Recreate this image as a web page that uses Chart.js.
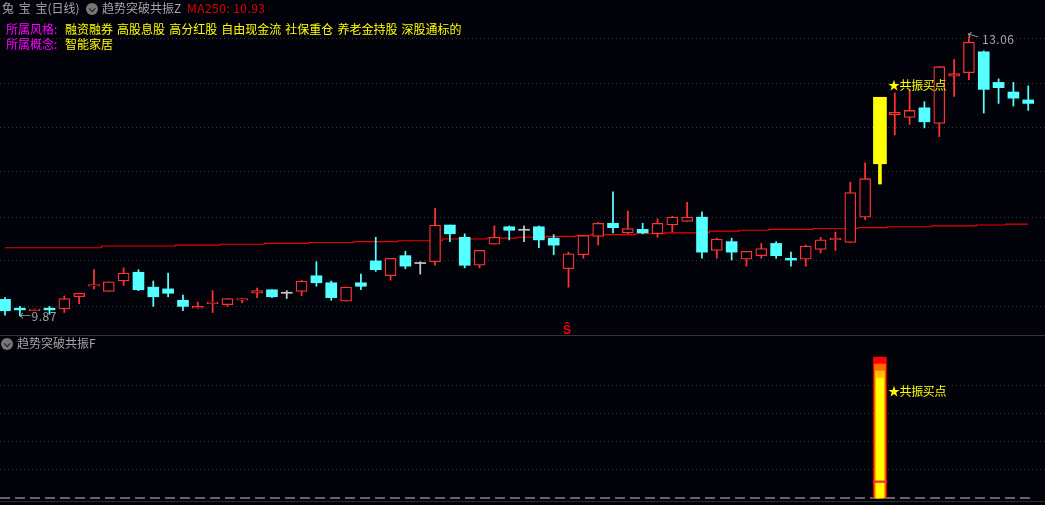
<!DOCTYPE html>
<html><head><meta charset="utf-8">
<script src="https://cdn.jsdelivr.net/npm/chart.js@4/dist/chart.umd.min.js"></script>
<style>
html,body{margin:0;padding:0;background:#02020b;width:1045px;height:505px;overflow:hidden;}
#root{position:relative;width:1045px;height:505px;font:12px "Noto Sans CJK SC",sans-serif;}
.pane{position:absolute;left:0;width:1045px;}
.pane canvas{display:block;}
.t{position:absolute;white-space:pre;line-height:14px;}
.rule{position:absolute;left:0;width:1045px;height:1px;background:#333338;}
.ico{position:absolute;width:12px;height:12px;border-radius:50%;background:#777;}
.ico:after{content:"";position:absolute;left:3.5px;top:2.5px;width:3.5px;height:3.5px;border:solid #15151a;border-width:0 1.5px 1.5px 0;transform:rotate(45deg);}
</style></head><body>
<div id="root">
<div class="pane" style="top:0;height:335px"><canvas id="main" width="1045" height="335"></canvas></div>
<div class="pane" style="top:336px;height:169px"><canvas id="sub" width="1045" height="169"></canvas></div>
<div class="rule" style="top:335px"></div>
<div class="rule" style="top:501px;background:#2e2e32"></div>

<div class="t" style="left:2px;top:1px;color:#a6a6a6;word-spacing:2px">兔 宝 宝(日线)</div>
<div class="ico" style="left:86px;top:3px"></div>
<div class="t" style="left:102px;top:1px;color:#a6a6a6">趋势突破共振Z</div>
<div class="t" style="left:187px;top:1px;color:#e80000;letter-spacing:.45px">MA250: 10.93</div>
<div class="t" style="left:6px;top:22px;color:#f0f">所属风格:</div>
<div class="t" style="left:65px;top:22px;color:#ff0;word-spacing:1.4px">融资融券 高股息股 高分红股 自由现金流 社保重仓 养老金持股 深股通标的</div>
<div class="t" style="left:6px;top:37px;color:#f0f">所属概念:</div>
<div class="t" style="left:65px;top:37px;color:#ff0">智能家居</div>

<div class="t" style="left:19px;top:309px;color:#a6a6a6;letter-spacing:.5px">←9.87</div>
<div class="t" style="left:967px;top:28px;color:#a6a6a6;transform:rotate(15deg)">←</div>
<div class="t" style="left:982px;top:32px;color:#a6a6a6;letter-spacing:.5px">13.06</div>
<div class="t" style="left:888px;top:78px;color:#ff0;letter-spacing:-.4px">★共振买点</div>
<div class="t" style="left:563px;top:322px;color:#f00;font-weight:bold">Ŝ</div>

<div class="ico" style="left:1px;top:338px"></div>
<div class="t" style="left:17px;top:336px;color:#a6a6a6">趋势突破共振F</div>
<div class="t" style="left:888px;top:384px;color:#ff0;letter-spacing:-.4px">★共振买点</div>
</div>
<script>
const opens=[10.06,9.96,9.93,9.96,9.95,10.09,10.21,10.15,10.27,10.37,10.20,10.18,10.05,9.96,10.01,10.00,10.05,10.13,10.17,10.13,10.15,10.33,10.25,10.04,10.25,10.50,10.33,10.56,10.47,10.49,10.91,10.77,10.45,10.69,10.89,10.85,10.89,10.76,10.41,10.57,10.78,10.93,10.82,10.86,10.81,10.91,10.95,11.00,10.62,10.72,10.52,10.56,10.70,10.53,10.52,10.63,10.74,10.71,11.00,11.61,12.17,12.14,12.25,12.07,12.61,12.65,12.89,12.54,12.43,12.34];
const closes=[9.93,9.94,9.95,9.94,10.07,10.13,10.23,10.26,10.36,10.17,10.09,10.13,9.98,9.98,10.03,10.07,10.07,10.16,10.09,10.13,10.27,10.25,10.08,10.20,10.21,10.40,10.53,10.44,10.47,10.91,10.81,10.45,10.62,10.77,10.85,10.85,10.74,10.68,10.58,10.79,10.93,10.88,10.87,10.82,10.93,11.00,11.00,10.60,10.75,10.60,10.61,10.64,10.56,10.51,10.67,10.74,10.76,11.28,11.44,12.37,12.20,12.22,12.09,12.72,12.64,13.00,12.46,12.48,12.36,12.30];
const highs=[10.08,9.98,9.95,9.98,10.10,10.13,10.40,10.26,10.42,10.40,10.27,10.36,10.11,10.03,10.16,10.07,10.07,10.19,10.17,10.16,10.28,10.49,10.27,10.20,10.35,10.77,10.53,10.61,10.49,11.10,10.91,10.81,10.62,10.90,10.90,10.90,10.90,10.80,10.60,10.79,10.94,11.29,11.07,10.93,10.98,11.01,11.17,11.06,10.76,10.76,10.61,10.70,10.72,10.60,10.68,10.77,10.83,11.40,11.62,12.37,12.42,12.45,12.32,12.72,12.80,13.06,12.90,12.58,12.54,12.50];
const lows=[9.88,9.87,9.93,9.89,9.91,10.01,10.18,10.15,10.22,10.16,9.98,10.09,9.93,9.96,9.91,9.98,10.02,10.08,10.08,10.07,10.10,10.21,10.05,10.04,10.17,10.38,10.28,10.41,10.35,10.45,10.72,10.42,10.42,10.69,10.74,10.72,10.65,10.57,10.20,10.53,10.68,10.82,10.81,10.81,10.77,10.83,10.95,10.53,10.53,10.51,10.44,10.53,10.53,10.44,10.44,10.59,10.62,10.71,10.97,11.38,11.94,12.06,12.02,11.92,12.38,12.57,12.19,12.30,12.27,12.22];
const ma250=[10.65,10.65,10.65,10.65,10.65,10.65,10.65,10.67,10.67,10.67,10.67,10.67,10.68,10.68,10.68,10.69,10.69,10.69,10.70,10.70,10.70,10.71,10.71,10.71,10.72,10.72,10.72,10.73,10.73,10.73,10.75,10.75,10.75,10.76,10.76,10.77,10.77,10.78,10.78,10.79,10.80,10.80,10.80,10.81,10.81,10.82,10.82,10.82,10.84,10.84,10.85,10.85,10.86,10.86,10.86,10.87,10.87,10.87,10.88,10.88,10.89,10.89,10.89,10.90,10.90,10.90,10.91,10.91,10.92,10.92];
const priceGrid=[9.98,10.50,11.00,11.52,12.02,12.53,13.04];
const signalIndex=[59];
const signalLayers=[100,95,90,85];
const signalLine=[11.6];
const subGrid=[20,40,60,80];

const RED='#ff3232',CYAN='#54ffff',WHITE='#c8c8c8',YELLOW='#ffff00',BG='#02020b';
const idx=opens.map((_,i)=>i);
const isSig=i=>signalIndex.includes(i);
const tone=i=>isSig(i)?YELLOW:closes[i]>opens[i]?RED:closes[i]<opens[i]?CYAN:WHITE;
const baseX={type:'linear',display:false,offset:false,min:-0.337,max:70.13};
const noLegend={legend:{display:false},tooltip:{enabled:false}};
const gridY=(min,max,levels)=>({min,max,position:'left',afterFit:s=>{s.width=0},
  afterBuildTicks:s=>{s.ticks=levels.map(value=>({value}))},
  ticks:{display:false},border:{display:false,dash:[1,3]},
  grid:{color:'#333338',drawTicks:false,lineWidth:1}});

new Chart(document.getElementById('main'),{
  type:'bar',
  data:{datasets:[
    {type:'line',data:idx.map(i=>({x:i,y:ma250[i]})),borderColor:'#f00000',borderWidth:1.2,pointRadius:0,stepped:'middle',order:3},
    {data:idx.map(i=>({x:i,y:[lows[i],highs[i]]})),barThickness:1.1,
     backgroundColor:idx.map(tone),borderWidth:0,grouped:false,order:2},
    {data:idx.map(i=>({x:i,y:[opens[i],closes[i]]})),barThickness:11,minBarLength:1,
     backgroundColor:idx.map(i=>closes[i]>opens[i]&&!isSig(i)?BG:tone(i)),
     borderColor:idx.map(tone),borderWidth:idx.map(i=>closes[i]>opens[i]&&!isSig(i)?1.3:0),borderSkipped:false,grouped:false,order:1},
    {data:signalIndex.map(i=>({x:i,y:[lows[i],highs[i]]})),barThickness:3,backgroundColor:YELLOW,borderWidth:0,grouped:false,order:1},
    {data:signalIndex.map(i=>({x:i,y:[opens[i],closes[i]]})),barThickness:13,backgroundColor:YELLOW,borderWidth:0,grouped:false,order:0}
  ]},
  options:{responsive:false,animation:false,events:[],devicePixelRatio:1,
    layout:{padding:0,autoPadding:false},plugins:noLegend,
    scales:{x:baseX,y:gridY(9.653,13.482,priceGrid)}}
});

const layerSet=(v,w,c,o)=>({data:signalIndex.map(i=>({x:i,y:[0,v]})),barThickness:w,backgroundColor:c,borderWidth:0,grouped:false,order:o});
new Chart(document.getElementById('sub'),{
  type:'bar',
  data:{datasets:[
    {type:'line',data:[{x:-0.337,y:0},{x:69.35,y:0}],borderColor:'#c8c8c8',borderWidth:1,borderDash:[10,5],pointRadius:0,order:7},
    layerSet(signalLayers[0],13,'#ff0000',6),
    layerSet(signalLayers[1],11,'#ff6a00',5),
    layerSet(signalLayers[2],9,'#ffc000',4),
    layerSet(signalLayers[3],7,'#ffff00',3),
    {data:signalIndex.map(i=>({x:i,y:[signalLine[0]-0.6,signalLine[0]+0.6]})),barThickness:13,backgroundColor:'#ff3030',borderWidth:0,grouped:false,order:2}
  ]},
  options:{responsive:false,animation:false,events:[],devicePixelRatio:1,
    layout:{padding:0,autoPadding:false},plugins:noLegend,
    scales:{x:baseX,y:gridY(-4.96,114.9,subGrid)}}
});
</script>
</body></html>
